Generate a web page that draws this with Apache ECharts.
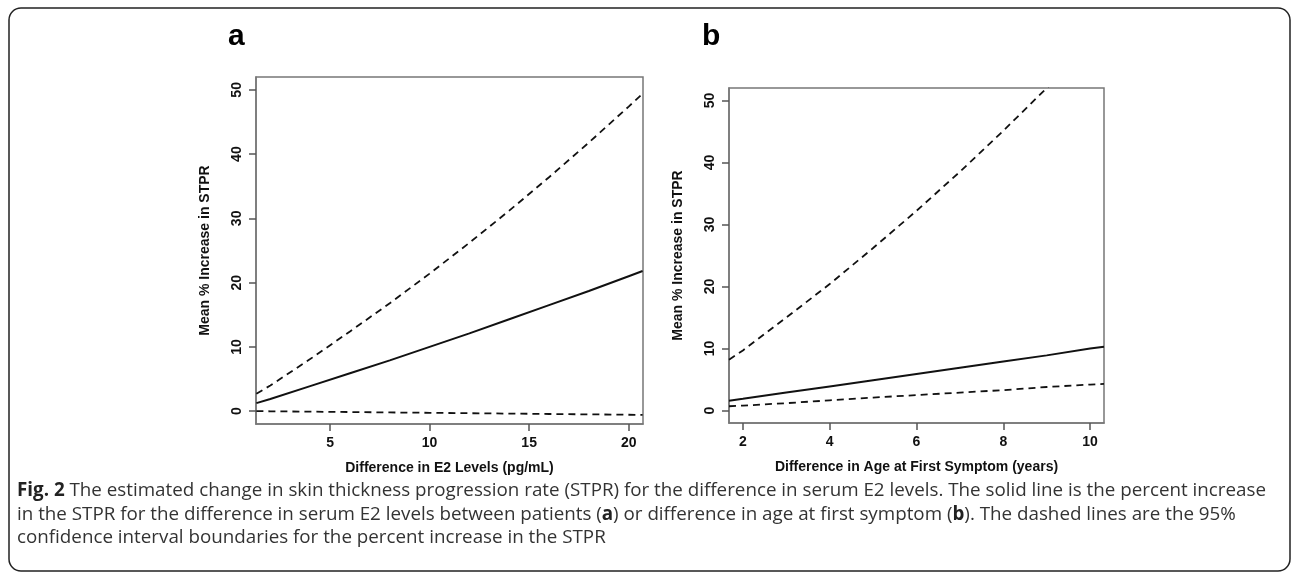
<!DOCTYPE html>
<html>
<head>
<meta charset="utf-8">
<script src="https://cdn.jsdelivr.net/npm/echarts@6/dist/echarts.min.js"></script>
<style>
html,body{margin:0;padding:0;background:#fff;}
#chart{width:1292px;height:580px;}
</style>
</head>
<body>
<div id="chart"></div>
<script>
// Panel a: Difference in E2 levels
const xA = [1.3, 2, 4, 6, 8, 10, 12, 14, 16, 18, 20, 20.7];
const aUpper = [2.7, 4.0, 8.1, 12.4, 16.8, 21.4, 26.2, 31.2, 36.4, 41.8, 47.4, 49.4];
const aMean = [1.25, 1.9, 3.9, 5.9, 7.9, 10.0, 12.1, 14.3, 16.5, 18.7, 21.0, 21.8];
const aLower = [0.0, -0.02, -0.08, -0.14, -0.2, -0.26, -0.32, -0.38, -0.44, -0.5, -0.56, -0.58];
// Panel b: Difference in age at first symptom
const xB = [1.68, 2, 3, 4, 5, 6, 7, 8, 9, 10, 10.32];
const bUpper = [8.2, 9.7, 15.0, 20.4, 26.2, 32.2, 38.5, 45.1, 52.0, 59.2, 61.6];
const bMean = [1.6, 1.9, 2.9, 3.9, 4.9, 5.9, 6.9, 7.9, 8.9, 10.0, 10.3];
const bLower = [0.7, 0.8, 1.2, 1.65, 2.1, 2.5, 2.9, 3.3, 3.8, 4.2, 4.3];
// Tick labels
const aXTicks = [5, 10, 15, 20];
const bXTicks = [2, 4, 6, 8, 10];
const yTicks = [0, 10, 20, 30, 40, 50];

const axisGray = '#555';
const txt = '#111';
const font = 'Liberation Sans, Arial, sans-serif';

function pairs(xs, ys) { return xs.map((x, i) => [x, ys[i]]); }

function xAxis(gridIndex, min, max, ticks, name) {
  return {
    type: 'value', gridIndex, min, max, position: 'bottom',
    axisLine: { show: true, onZero: false, lineStyle: { color: '#777', width: 1.5 } },
    splitLine: { show: false },
    axisTick: { show: true, length: 7, customValues: ticks, lineStyle: { color: axisGray, width: 1.5 } },
    axisLabel: { customValues: ticks, margin: 12, color: txt, fontWeight: 'bold', fontSize: 14, fontFamily: font },
    name, nameLocation: 'middle', nameGap: 37,
    nameTextStyle: { color: txt, fontWeight: 'bold', fontSize: 14, fontFamily: font }
  };
}
function yAxis(gridIndex) {
  return {
    type: 'value', gridIndex, min: -2, max: 52, position: 'left',
    axisLine: { show: true, onZero: false, lineStyle: { color: '#777', width: 1.5 } },
    splitLine: { show: false },
    axisTick: { show: true, length: 7, customValues: yTicks, lineStyle: { color: axisGray, width: 1.5 } },
    axisLabel: { customValues: yTicks, rotate: 90, margin: 12, color: txt, fontWeight: 'bold', fontSize: 14, fontFamily: font },
    name: 'Mean % Increase in STPR', nameLocation: 'middle', nameGap: 44, nameRotate: 90,
    nameTextStyle: { color: txt, fontWeight: 'bold', fontSize: 14, fontFamily: font }
  };
}
function line(xi, data, dashed) {
  return {
    type: 'line', xAxisIndex: xi, yAxisIndex: xi, data, showSymbol: false, symbol: 'none',
    clip: true, silent: true,
    lineStyle: { color: '#111', width: dashed ? 1.8 : 2, type: dashed ? [7, 5] : 'solid' }
  };
}

const chart = echarts.init(document.getElementById('chart'), null, { renderer: 'canvas' });
chart.setOption({
  animation: false,
  backgroundColor: '#fff',
  grid: [
    { left: 256, top: 77, width: 387, height: 347, show: true, borderColor: '#777', borderWidth: 1.5, backgroundColor: 'transparent' },
    { left: 729, top: 88, width: 375, height: 335, show: true, borderColor: '#777', borderWidth: 1.5, backgroundColor: 'transparent' }
  ],
  xAxis: [
    xAxis(0, 1.28, 20.72, aXTicks, 'Difference in E2 Levels (pg/mL)'),
    xAxis(1, 1.68, 10.32, bXTicks, 'Difference in Age at First Symptom (years)')
  ],
  yAxis: [yAxis(0), yAxis(1)],
  series: [
    line(0, pairs(xA, aUpper), true),
    line(0, pairs(xA, aMean), false),
    line(0, pairs(xA, aLower), true),
    line(1, pairs(xB, bUpper), true),
    line(1, pairs(xB, bMean), false),
    line(1, pairs(xB, bLower), true)
  ],
  graphic: [
    { type: 'rect', silent: true, shape: { x: 9, y: 8, width: 1281, height: 563, r: 12 },
      style: { fill: 'none', stroke: '#222', lineWidth: 1.5 } },
    { type: 'text', left: 228, top: 22, silent: true,
      style: { text: 'a', fontSize: 30, fontWeight: 'bold', fontFamily: font, fill: '#000' } },
    { type: 'text', left: 702, top: 22, silent: true,
      style: { text: 'b', fontSize: 30, fontWeight: 'bold', fontFamily: font, fill: '#000' } },
    { type: 'text', left: 17, top: 479, silent: true,
      style: {
        text: '{b|Fig. 2} The estimated change in skin thickness progression rate (STPR) for the difference in serum E2 levels. The solid line is the percent increase\n' +
              'in the STPR for the difference in serum E2 levels between patients ({b|a}) or difference in age at first symptom ({b|b}). The dashed lines are the 95%\n' +
              'confidence interval boundaries for the percent increase in the STPR',
        fontSize: 18.8, fontFamily: 'Open Sans, sans-serif', fill: '#333', lineHeight: 23.5,
        rich: { b: { fontWeight: 'bold', fontSize: 18.8, fontFamily: 'Open Sans, sans-serif', fill: '#222', lineHeight: 23.5 } }
      } }
  ]
});
</script>
</body>
</html>
